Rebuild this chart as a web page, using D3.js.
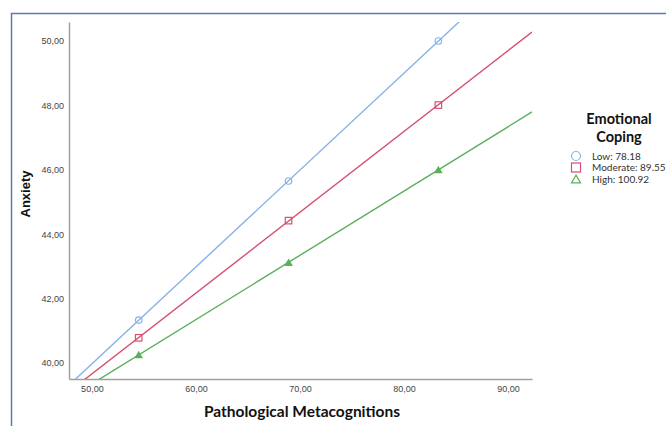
<!DOCTYPE html>
<html><head><meta charset="utf-8">
<script src="https://cdn.jsdelivr.net/npm/d3@7"></script>
<style>body{margin:0;background:#fff}svg{display:block}</style>
</head><body><div id="chart"></div>
<script>
const xValues = [54.5, 68.9, 83.3];
const seriesNames = ["Low: 78.18", "Moderate: 89.55", "High: 100.92"];
const lowValues = [41.33, 45.65, 50.0];
const moderateValues = [40.78, 44.42, 48.01];
const highValues = [40.25, 43.12, 46.0];
const xTicks = [50, 60, 70, 80, 90];
const yTicks = [40, 42, 44, 46, 48, 50];
const legendTitle = ["Emotional", "Coping"];
const xTitle = "Pathological Metacognitions";
const yTitle = "Anxiety";

const colors = ["#86b3e6", "#d6506f", "#5caf5c"];
const shapes = ["circle", "square", "triangle"];
const series = [lowValues, moderateValues, highValues].map((v, i) => ({name: seriesNames[i], values: v, color: colors[i], shape: shapes[i]}));

const W = 666, H = 426;
const svg = d3.select("#chart").append("svg").attr("width", W).attr("height", H);

// frame
svg.append("path").attr("d", `M11.5,${H}V13.5H${W}`).attr("fill", "none").attr("stroke", "#5b7bb4").attr("stroke-width", 1.5);

const x = d3.scaleLinear().domain([47.8, 92.3]).range([69, 532]);
const y = d3.scaleLinear().domain([39.5, 50.59]).range([379, 22]);

svg.append("defs").append("clipPath").attr("id", "clip")
  .append("rect").attr("x", 69).attr("y", 22).attr("width", 463).attr("height", 357);

const fmt = d => d.toFixed(2).replace(".", ",");

// axes
const xAxis = svg.append("g").attr("transform", "translate(0,379)")
  .call(d3.axisBottom(x).tickValues(xTicks).tickSize(0).tickPadding(7).tickFormat(fmt));
const yAxis = svg.append("g").attr("transform", "translate(69,0)")
  .call(d3.axisLeft(y).tickValues(yTicks).tickSize(0).tickPadding(5).tickFormat(fmt));
[xAxis, yAxis].forEach(g => {
  g.select(".domain").attr("stroke", "#a0a0a0").attr("stroke-width", 1.5);
  g.selectAll("text").attr("font-family", "Liberation Sans, Arial, sans-serif").attr("font-size", 9).attr("fill", "#444");
});

// lines (fitted through the points, across the axis range)
const plot = svg.append("g").attr("clip-path", "url(#clip)");
series.forEach(s => {
  const mx = d3.mean(xValues), my = d3.mean(s.values);
  const b = d3.sum(xValues, (xv, i) => (xv - mx) * (s.values[i] - my)) / d3.sum(xValues, xv => (xv - mx) ** 2);
  const a = my - b * mx;
  const [x0, x1] = x.domain();
  plot.append("line")
    .attr("x1", x(x0)).attr("y1", y(a + b * x0))
    .attr("x2", x(x1)).attr("y2", y(a + b * x1))
    .attr("stroke", s.color).attr("stroke-width", 1.4);
});

function drawMarker(g, shape, cx, cy, color, size, filledTri) {
  if (shape === "circle") {
    g.append("circle").attr("cx", cx).attr("cy", cy).attr("r", size / 2)
      .attr("fill", "none").attr("stroke", color).attr("stroke-width", 1.2);
  } else if (shape === "square") {
    g.append("rect").attr("x", cx - size / 2).attr("y", cy - size / 2).attr("width", size).attr("height", size)
      .attr("fill", "none").attr("stroke", color).attr("stroke-width", 1.2);
  } else {
    const h = size * 0.87;
    g.append("path").attr("d", `M${cx},${cy - h / 2}L${cx + size / 2},${cy + h / 2}L${cx - size / 2},${cy + h / 2}Z`)
      .attr("fill", filledTri ? color : "none").attr("stroke", color).attr("stroke-width", 1.2);
  }
}

series.forEach(s => {
  const g = svg.append("g");
  xValues.forEach((xv, i) => drawMarker(g, s.shape, x(xv), y(s.values[i]), s.color, 6.5, true));
});

// axis titles
svg.append("text").attr("x", 302).attr("y", 417).attr("text-anchor", "middle")
  .attr("font-family", "Lato, Open Sans, sans-serif").attr("font-weight", "bold").attr("font-size", 15.5).attr("fill", "#111")
  .text(xTitle);
svg.append("text").attr("transform", "translate(30,194) rotate(-90)").attr("text-anchor", "middle")
  .attr("font-family", "Liberation Sans, Arial, sans-serif").attr("font-weight", "bold").attr("font-size", 13).attr("fill", "#111")
  .text(yTitle);

// legend
const lg = svg.append("g");
legendTitle.forEach((t, i) => {
  lg.append("text").attr("x", 619).attr("y", 124 + i * 17.5).attr("text-anchor", "middle")
    .attr("font-family", "Lato, Open Sans, sans-serif").attr("font-weight", "bold").attr("font-size", 14.5).attr("fill", "#111")
    .text(t);
});
series.forEach((s, i) => {
  const cy = 156 + i * 11.5;
  drawMarker(lg, s.shape, 576, cy, s.color, 9, false);
  lg.append("text").attr("x", 592).attr("y", cy + 3.5)
    .attr("font-family", "Lato, Open Sans, sans-serif").attr("font-size", 10).attr("fill", "#333")
    .text(s.name);
});
</script></body></html>
